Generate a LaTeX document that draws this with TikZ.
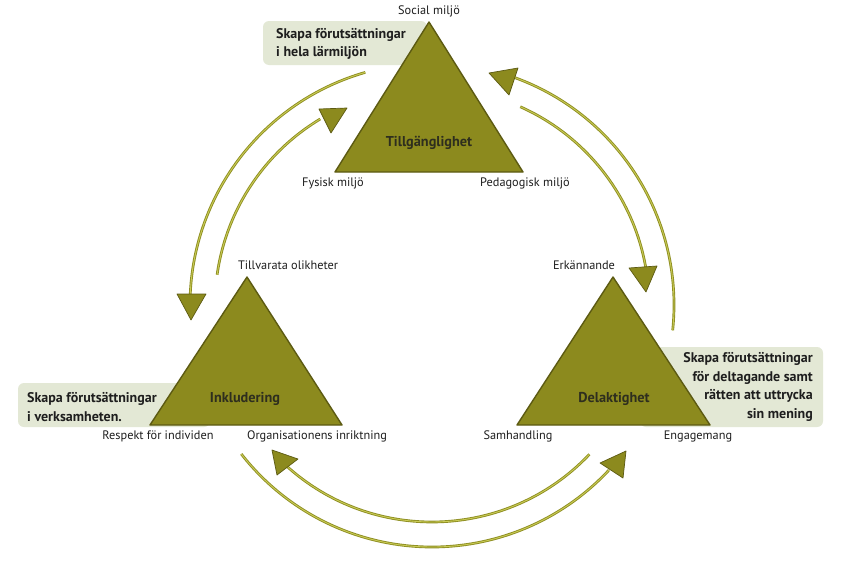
\documentclass[tikz,border=0pt]{standalone}
\usepackage{fontspec}
\setmainfont{PT Sans}
\definecolor{tri}{HTML}{8C8A1E}
\definecolor{triedge}{HTML}{5C5A12}
\definecolor{boxbg}{HTML}{E3E8D5}
\definecolor{arcol}{HTML}{8E8E22}
\definecolor{arhi}{HTML}{C9CB55}
\definecolor{txt}{HTML}{1E1E1E}
\begin{document}
\begin{tikzpicture}[x=1pt,y=-1pt,
  lbl/.style={font=\fontsize{12.3}{14}\selectfont, text=txt, inner sep=0pt},
  tname/.style={font=\fontsize{14.3}{16}\selectfont\bfseries, text=txt!85!tri, inner sep=0pt},
  boxtxt/.style={font=\fontsize{14}{18.8}\selectfont\bfseries, text=txt, inner sep=0pt},
  tribody/.style={fill=tri, draw=triedge, line width=1.4pt, line join=round},
  notebox/.style={fill=boxbg, rounded corners=6pt, draw=none},
  flow/.style={draw=arcol, line width=0.9pt, double=arhi, double distance=0.9pt},
  head/.style={fill=tri, draw=triedge, line width=0.7pt, line join=round}]
\useasboundingbox (0,0) rectangle (842,562);
\fill[white] (0,0) rectangle (842,562);

% note boxes
\path[notebox] (263,21) rectangle (427,65);
\path[notebox] (18,383) rectangle (210,427);
\path[notebox] (640,347) rectangle (823,427);

% triangles
\coordinate (tA) at (429,22); \coordinate (tL) at (335,172); \coordinate (tR) at (523,172);
\draw[tribody] (tL) -- (tR) -- (tA) -- cycle;
\coordinate (lA) at (247,277); \coordinate (lL) at (150,425); \coordinate (lR) at (342,425);
\draw[tribody] (lL) -- (lR) -- (lA) -- cycle;
\coordinate (rA) at (613,277); \coordinate (rL) at (517,425); \coordinate (rR) at (710,425);
\draw[tribody] (rL) -- (rR) -- (rA) -- cycle;

% box texts
\node[boxtxt, anchor=west, align=left] (b1) at (276,44) {Skapa förutsättningar\\i hela lärmiljön};
\node[boxtxt, anchor=west, align=left] (b2) at (27,407) {Skapa förutsättningar\\i verksamheten.};
\node[boxtxt, anchor=east, align=right] (b3) at (813,387) {Skapa förutsättningar\\för deltagande samt\\rätten att uttrycka\\sin mening};

% triangle names
\node[tname] (n1) at (429,143) {Tillgänglighet};
\node[tname] (n2) at (245,399) {Inkludering};
\node[tname] (n3) at (614,399) {Delaktighet};

% corner labels
\node[lbl] (s1) at (429,11) {Social miljö};
\node[lbl] (s2) at (333,183) {Fysisk miljö};
\node[lbl] (s3) at (525,183) {Pedagogisk miljö};
\node[lbl] (s4) at (288,265) {Tillvarata olikheter};
\node[lbl] (s5) at (158,436) {Respekt för individen};
\node[lbl] (s6) at (317,436) {Organisationens inriktning};
\node[lbl] (s7) at (584,265) {Erkännande};
\node[lbl] (s8) at (518,436) {Samhandling};
\node[lbl] (s9) at (698,436) {Engagemang};

% cycle arcs
\coordinate (ctr) at (432,305);
\coordinate (aS) at ([shift={(-106:242)}]ctr);
\coordinate (bS) at ([shift={(-172:217)}]ctr);
\coordinate (cS) at ([shift={(6:242)}]ctr);
\coordinate (dS) at ([shift={(-66:217)}]ctr);
\coordinate (eS) at ([shift={(142:242)}]ctr);
\coordinate (fS) at ([shift={(43.5:217)}]ctr);
\draw[flow] (aS) arc[start angle=-106, end angle=-178, radius=242];
\draw[flow] (bS) arc[start angle=-172, end angle=-121, radius=217];
\draw[flow] (cS) arc[start angle=6, end angle=-70, radius=242];
\draw[flow] (dS) arc[start angle=-66, end angle=-10, radius=217];
\draw[flow] (eS) arc[start angle=142, end angle=43, radius=242];
\draw[flow] (fS) arc[start angle=43.5, end angle=132.5, radius=217];

% arrow heads
\draw[head] (177,294) -- (206,294) -- (191,320) -- cycle;
\draw[head] (319,109) -- (347,108) -- (331,133) -- cycle;
\draw[head] (489,73) -- (518,68) -- (509,95) -- cycle;
\draw[head] (629,268) -- (657,266) -- (646,292) -- cycle;
\draw[head] (600,463) -- (626,451) -- (623,478) -- cycle;
\draw[head] (272,450) -- (298,459) -- (277,475) -- cycle;
\end{tikzpicture}
\end{document}
